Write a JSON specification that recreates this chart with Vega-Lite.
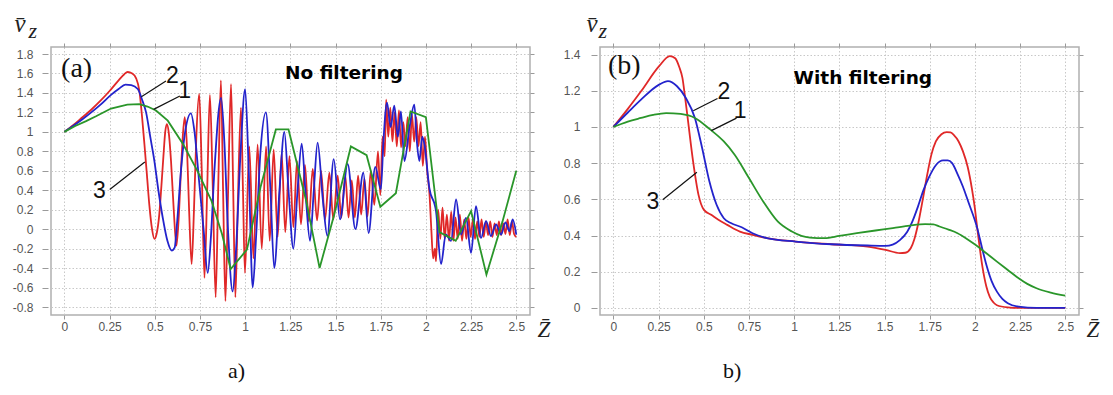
{
 "$schema": "https://vega.github.io/schema/vega-lite/v6.json",
 "background": "white",
 "padding": {"left": 11, "top": 10, "right": 5, "bottom": 5},
 "bounds": "flush",
 "spacing": 70,
 "config": {
  "view": {"stroke": "#b0b0b0", "strokeWidth": 1.5},
  "axis": {"labelFont": "Liberation Sans", "labelFontSize": 12, "labelColor": "#555555", "tickColor": "#9a9a9a", "gridColor": "#c8c8c8", "gridDash": [1.5, 2], "gridWidth": 1, "domain": false, "titleFont": "Liberation Serif", "titleFontStyle": "italic", "titleFontWeight": "normal", "titleColor": "#222222", "titleFontSize": 21, "labelFlush": false},
  "title": {"font": "Liberation Serif", "fontSize": 22, "fontWeight": "normal", "color": "#111111"}
 },
 "datasets": {
  "L": [
   {"s":3,"x":0,"y":1.0},{"s":3,"x":0.05,"y":1.07},{"s":3,"x":0.1,"y":1.15},{"s":3,"x":0.15,"y":1.23},{"s":3,"x":0.2,"y":1.32},{"s":3,"x":0.25,"y":1.42},{"s":3,"x":0.3,"y":1.53},{"s":3,"x":0.33,"y":1.59},{"s":3,"x":0.35,"y":1.615},{"s":3,"x":0.375,"y":1.6},{"s":3,"x":0.397,"y":1.55},{"s":3,"x":0.415,"y":1.42},{"s":3,"x":0.43,"y":1.15},{"s":3,"x":0.443,"y":0.87},{"s":3,"x":0.457,"y":0.55},{"s":3,"x":0.47,"y":0.25},{"s":3,"x":0.485,"y":0.0},{"s":3,"x":0.498,"y":-0.1},{"s":3,"x":0.51,"y":-0.05},{"s":3,"x":0.525,"y":0.15},{"s":3,"x":0.537,"y":0.45},{"s":3,"x":0.548,"y":0.75},{"s":3,"x":0.558,"y":1.0},{"s":3,"x":0.567,"y":1.08},{"s":3,"x":0.577,"y":1.0},{"s":3,"x":0.59,"y":0.7},{"s":3,"x":0.605,"y":0.2},{"s":3,"x":0.62,"y":-0.17},{"s":3,"x":0.632,"y":0.1},{"s":3,"x":0.645,"y":0.6},{"s":3,"x":0.655,"y":0.95},{"s":3,"x":0.666,"y":1.15},{"s":3,"x":0.678,"y":0.85},{"s":3,"x":0.69,"y":0.2},{"s":3,"x":0.704,"y":-0.36},{"s":3,"x":0.717,"y":0.2},{"s":3,"x":0.73,"y":0.95},{"s":3,"x":0.746,"y":1.39},{"s":3,"x":0.76,"y":0.6},{"s":3,"x":0.775,"y":-0.5},{"s":3,"x":0.79,"y":0.4},{"s":3,"x":0.805,"y":1.38},{"s":3,"x":0.82,"y":0.5},{"s":3,"x":0.837,"y":-0.7},{"s":3,"x":0.852,"y":0.5},{"s":3,"x":0.866,"y":1.53},{"s":3,"x":0.878,"y":0.4},{"s":3,"x":0.891,"y":-0.74},{"s":3,"x":0.906,"y":0.4},{"s":3,"x":0.922,"y":1.49},{"s":3,"x":0.934,"y":0.4},{"s":3,"x":0.946,"y":-0.7},{"s":3,"x":0.96,"y":0.3},{"s":3,"x":0.977,"y":1.25},{"s":3,"x":0.988,"y":0.4},{"s":3,"x":0.999,"y":-0.45},{"s":3,"x":1.023,"y":0.85},{"s":3,"x":1.046,"y":-0.3},{"s":3,"x":1.069,"y":0.87},{"s":3,"x":1.092,"y":-0.2},{"s":3,"x":1.116,"y":0.85},{"s":3,"x":1.136,"y":-0.12},{"s":3,"x":1.158,"y":0.82},{"s":3,"x":1.18,"y":-0.08},{"s":3,"x":1.202,"y":0.78},{"s":3,"x":1.222,"y":-0.03},{"s":3,"x":1.245,"y":0.75},{"s":3,"x":1.267,"y":0.02},{"s":3,"x":1.287,"y":0.7},{"s":3,"x":1.309,"y":0.05},{"s":3,"x":1.331,"y":0.66},{"s":3,"x":1.352,"y":0.08},{"s":3,"x":1.374,"y":0.62},{"s":3,"x":1.398,"y":0.09},{"s":3,"x":1.42,"y":0.6},{"s":3,"x":1.442,"y":0.1},{"s":3,"x":1.466,"y":0.58},{"s":3,"x":1.488,"y":0.1},{"s":3,"x":1.512,"y":0.55},{"s":3,"x":1.532,"y":0.12},{"s":3,"x":1.554,"y":0.55},{"s":3,"x":1.572,"y":0.12},{"s":3,"x":1.59,"y":0.5},{"s":3,"x":1.607,"y":0.12},{"s":3,"x":1.625,"y":0.55},{"s":3,"x":1.642,"y":0.15},{"s":3,"x":1.66,"y":0.52},{"s":3,"x":1.677,"y":0.13},{"s":3,"x":1.695,"y":0.6},{"s":3,"x":1.715,"y":0.25},{"s":3,"x":1.735,"y":0.8},{"s":3,"x":1.748,"y":0.35},{"s":3,"x":1.76,"y":0.95},{"s":3,"x":1.772,"y":0.75},{"s":3,"x":1.78,"y":1.33},{"s":3,"x":1.792,"y":0.95},{"s":3,"x":1.803,"y":1.25},{"s":3,"x":1.815,"y":0.9},{"s":3,"x":1.827,"y":1.2},{"s":3,"x":1.839,"y":0.85},{"s":3,"x":1.851,"y":1.22},{"s":3,"x":1.863,"y":0.84},{"s":3,"x":1.875,"y":1.1},{"s":3,"x":1.887,"y":0.85},{"s":3,"x":1.899,"y":1.15},{"s":3,"x":1.911,"y":0.8},{"s":3,"x":1.923,"y":1.18},{"s":3,"x":1.935,"y":0.9},{"s":3,"x":1.947,"y":1.15},{"s":3,"x":1.959,"y":0.85},{"s":3,"x":1.971,"y":1.1},{"s":3,"x":1.983,"y":0.65},{"s":3,"x":1.995,"y":0.95},{"s":3,"x":2.007,"y":0.6},{"s":3,"x":2.02,"y":0.36},{"s":3,"x":2.03,"y":0.0},{"s":3,"x":2.04,"y":-0.3},{"s":3,"x":2.05,"y":-0.2},{"s":3,"x":2.056,"y":-0.33},{"s":3,"x":2.068,"y":0.2},{"s":3,"x":2.08,"y":-0.1},{"s":3,"x":2.092,"y":0.22},{"s":3,"x":2.104,"y":-0.1},{"s":3,"x":2.116,"y":0.15},{"s":3,"x":2.128,"y":-0.12},{"s":3,"x":2.14,"y":0.18},{"s":3,"x":2.152,"y":-0.12},{"s":3,"x":2.164,"y":0.12},{"s":3,"x":2.176,"y":-0.1},{"s":3,"x":2.188,"y":0.15},{"s":3,"x":2.2,"y":-0.12},{"s":3,"x":2.212,"y":0.1},{"s":3,"x":2.224,"y":-0.1},{"s":3,"x":2.236,"y":0.12},{"s":3,"x":2.248,"y":-0.08},{"s":3,"x":2.26,"y":0.1},{"s":3,"x":2.272,"y":-0.1},{"s":3,"x":2.284,"y":0.08},{"s":3,"x":2.296,"y":-0.08},{"s":3,"x":2.308,"y":0.1},{"s":3,"x":2.32,"y":-0.08},{"s":3,"x":2.332,"y":0.08},{"s":3,"x":2.344,"y":-0.06},{"s":3,"x":2.356,"y":0.08},{"s":3,"x":2.368,"y":-0.08},{"s":3,"x":2.38,"y":0.06},{"s":3,"x":2.392,"y":-0.06},{"s":3,"x":2.404,"y":0.08},{"s":3,"x":2.416,"y":-0.06},{"s":3,"x":2.428,"y":0.06},{"s":3,"x":2.44,"y":-0.05},{"s":3,"x":2.452,"y":0.1},{"s":3,"x":2.464,"y":-0.06},{"s":3,"x":2.476,"y":0.08},{"s":3,"x":2.488,"y":-0.05},{"s":3,"x":2.5,"y":-0.08},
   {"s":2,"x":0,"y":1.0},{"s":2,"x":0.1,"y":1.13},{"s":2,"x":0.2,"y":1.28},{"s":2,"x":0.258,"y":1.38},{"s":2,"x":0.3,"y":1.44},{"s":2,"x":0.338,"y":1.485},{"s":2,"x":0.37,"y":1.48},{"s":2,"x":0.406,"y":1.44},{"s":2,"x":0.43,"y":1.33},{"s":2,"x":0.452,"y":1.2},{"s":2,"x":0.475,"y":0.95},{"s":2,"x":0.498,"y":0.7},{"s":2,"x":0.52,"y":0.4},{"s":2,"x":0.544,"y":0.12},{"s":2,"x":0.57,"y":-0.12},{"s":2,"x":0.594,"y":-0.22},{"s":2,"x":0.61,"y":-0.19},{"s":2,"x":0.625,"y":0.1},{"s":2,"x":0.645,"y":0.6},{"s":2,"x":0.668,"y":1.0},{"s":2,"x":0.7,"y":1.19},{"s":2,"x":0.72,"y":1.0},{"s":2,"x":0.745,"y":0.5},{"s":2,"x":0.77,"y":0.0},{"s":2,"x":0.793,"y":-0.45},{"s":2,"x":0.81,"y":-0.1},{"s":2,"x":0.83,"y":0.6},{"s":2,"x":0.867,"y":1.35},{"s":2,"x":0.885,"y":0.9},{"s":2,"x":0.905,"y":0.0},{"s":2,"x":0.931,"y":-0.64},{"s":2,"x":0.95,"y":-0.2},{"s":2,"x":0.975,"y":0.8},{"s":2,"x":1.0,"y":1.44},{"s":2,"x":1.02,"y":0.6},{"s":2,"x":1.042,"y":-0.6},{"s":2,"x":1.06,"y":-0.1},{"s":2,"x":1.085,"y":0.8},{"s":2,"x":1.115,"y":1.2},{"s":2,"x":1.14,"y":0.4},{"s":2,"x":1.161,"y":-0.4},{"s":2,"x":1.19,"y":0.4},{"s":2,"x":1.217,"y":1.0},{"s":2,"x":1.24,"y":0.4},{"s":2,"x":1.267,"y":-0.2},{"s":2,"x":1.29,"y":0.4},{"s":2,"x":1.313,"y":0.88},{"s":2,"x":1.335,"y":0.35},{"s":2,"x":1.359,"y":-0.12},{"s":2,"x":1.38,"y":0.4},{"s":2,"x":1.401,"y":0.89},{"s":2,"x":1.43,"y":0.3},{"s":2,"x":1.455,"y":-0.07},{"s":2,"x":1.49,"y":0.72},{"s":2,"x":1.525,"y":0.1},{"s":2,"x":1.567,"y":0.67},{"s":2,"x":1.61,"y":0.0},{"s":2,"x":1.654,"y":0.58},{"s":2,"x":1.683,"y":-0.04},{"s":2,"x":1.72,"y":0.64},{"s":2,"x":1.751,"y":0.41},{"s":2,"x":1.765,"y":0.9},{"s":2,"x":1.785,"y":1.3},{"s":2,"x":1.805,"y":1.05},{"s":2,"x":1.825,"y":1.27},{"s":2,"x":1.845,"y":0.95},{"s":2,"x":1.862,"y":1.21},{"s":2,"x":1.881,"y":0.7},{"s":2,"x":1.909,"y":1.04},{"s":2,"x":1.936,"y":1.28},{"s":2,"x":1.95,"y":0.9},{"s":2,"x":1.964,"y":0.7},{"s":2,"x":1.98,"y":0.95},{"s":2,"x":1.992,"y":0.87},{"s":2,"x":2.019,"y":0.425},{"s":2,"x":2.056,"y":0.185},{"s":2,"x":2.084,"y":-0.36},{"s":2,"x":2.11,"y":-0.055},{"s":2,"x":2.139,"y":-0.12},{"s":2,"x":2.167,"y":0.305},{"s":2,"x":2.195,"y":-0.055},{"s":2,"x":2.222,"y":0.117},{"s":2,"x":2.25,"y":-0.244},{"s":2,"x":2.277,"y":0.236},{"s":2,"x":2.305,"y":-0.09},{"s":2,"x":2.333,"y":0.082},{"s":2,"x":2.36,"y":-0.072},{"s":2,"x":2.388,"y":0.048},{"s":2,"x":2.416,"y":-0.055},{"s":2,"x":2.44,"y":0.07},{"s":2,"x":2.462,"y":-0.02},{"s":2,"x":2.48,"y":0.1},{"s":2,"x":2.5,"y":-0.055},
   {"s":1,"x":0,"y":1.0},{"s":1,"x":0.06,"y":1.06},{"s":1,"x":0.12,"y":1.11},{"s":1,"x":0.175,"y":1.16},{"s":1,"x":0.258,"y":1.24},{"s":1,"x":0.348,"y":1.28},{"s":1,"x":0.415,"y":1.285},{"s":1,"x":0.46,"y":1.26},{"s":1,"x":0.507,"y":1.22},{"s":1,"x":0.572,"y":1.115},{"s":1,"x":0.658,"y":0.87},{"s":1,"x":0.736,"y":0.6},{"s":1,"x":0.814,"y":0.29},{"s":1,"x":0.872,"y":-0.05},{"s":1,"x":0.92,"y":-0.41},{"s":1,"x":1.01,"y":-0.21},{"s":1,"x":1.085,"y":0.43},{"s":1,"x":1.17,"y":1.025},{"s":1,"x":1.24,"y":1.025},{"s":1,"x":1.338,"y":0.29},{"s":1,"x":1.412,"y":-0.4},{"s":1,"x":1.493,"y":0.15},{"s":1,"x":1.585,"y":0.85},{"s":1,"x":1.672,"y":0.76},{"s":1,"x":1.748,"y":0.23},{"s":1,"x":1.834,"y":0.37},{"s":1,"x":1.915,"y":1.21},{"s":1,"x":2.0,"y":1.15},{"s":1,"x":2.075,"y":-0.03},{"s":1,"x":2.165,"y":-0.12},{"s":1,"x":2.25,"y":0.185},{"s":1,"x":2.335,"y":-0.467},{"s":1,"x":2.424,"y":0.08},{"s":1,"x":2.5,"y":0.6}
  ],
  "R": [
   {"s":3,"x":0,"y":1.0},{"s":3,"x":0.08,"y":1.1},{"s":3,"x":0.153,"y":1.197},{"s":3,"x":0.253,"y":1.336},{"s":3,"x":0.312,"y":1.392},{"s":3,"x":0.342,"y":1.38},{"s":3,"x":0.365,"y":1.33},{"s":3,"x":0.382,"y":1.271},{"s":3,"x":0.396,"y":1.17},{"s":3,"x":0.411,"y":1.05},{"s":3,"x":0.441,"y":0.81},{"s":3,"x":0.471,"y":0.625},{"s":3,"x":0.501,"y":0.542},{"s":3,"x":0.541,"y":0.515},{"s":3,"x":0.581,"y":0.487},{"s":3,"x":0.63,"y":0.459},{"s":3,"x":0.7,"y":0.422},{"s":3,"x":0.77,"y":0.404},{"s":3,"x":0.849,"y":0.386},{"s":3,"x":1.008,"y":0.367},{"s":3,"x":1.207,"y":0.352},{"s":3,"x":1.406,"y":0.339},{"s":3,"x":1.506,"y":0.321},{"s":3,"x":1.585,"y":0.303},{"s":3,"x":1.615,"y":0.305},{"s":3,"x":1.645,"y":0.33},{"s":3,"x":1.665,"y":0.38},{"s":3,"x":1.685,"y":0.46},{"s":3,"x":1.71,"y":0.59},{"s":3,"x":1.735,"y":0.73},{"s":3,"x":1.76,"y":0.85},{"s":3,"x":1.784,"y":0.92},{"s":3,"x":1.815,"y":0.96},{"s":3,"x":1.844,"y":0.972},{"s":3,"x":1.865,"y":0.97},{"s":3,"x":1.884,"y":0.955},{"s":3,"x":1.91,"y":0.92},{"s":3,"x":1.934,"y":0.865},{"s":3,"x":1.96,"y":0.78},{"s":3,"x":1.983,"y":0.662},{"s":3,"x":2.0,"y":0.55},{"s":3,"x":2.013,"y":0.441},{"s":3,"x":2.043,"y":0.22},{"s":3,"x":2.063,"y":0.12},{"s":3,"x":2.083,"y":0.06},{"s":3,"x":2.103,"y":0.03},{"s":3,"x":2.122,"y":0.015},{"s":3,"x":2.182,"y":0.003},{"s":3,"x":2.242,"y":0},{"s":3,"x":2.5,"y":0},
   {"s":2,"x":0,"y":1.0},{"s":2,"x":0.08,"y":1.08},{"s":2,"x":0.153,"y":1.151},{"s":2,"x":0.253,"y":1.234},{"s":2,"x":0.302,"y":1.253},{"s":2,"x":0.352,"y":1.225},{"s":2,"x":0.401,"y":1.16},{"s":2,"x":0.451,"y":1.05},{"s":2,"x":0.491,"y":0.884},{"s":2,"x":0.531,"y":0.7},{"s":2,"x":0.571,"y":0.57},{"s":2,"x":0.611,"y":0.496},{"s":2,"x":0.65,"y":0.469},{"s":2,"x":0.71,"y":0.446},{"s":2,"x":0.77,"y":0.413},{"s":2,"x":0.849,"y":0.386},{"s":2,"x":1.008,"y":0.367},{"s":2,"x":1.207,"y":0.352},{"s":2,"x":1.406,"y":0.345},{"s":2,"x":1.506,"y":0.343},{"s":2,"x":1.545,"y":0.35},{"s":2,"x":1.585,"y":0.375},{"s":2,"x":1.625,"y":0.42},{"s":2,"x":1.655,"y":0.48},{"s":2,"x":1.685,"y":0.56},{"s":2,"x":1.715,"y":0.65},{"s":2,"x":1.745,"y":0.72},{"s":2,"x":1.785,"y":0.79},{"s":2,"x":1.824,"y":0.815},{"s":2,"x":1.85,"y":0.815},{"s":2,"x":1.874,"y":0.8},{"s":2,"x":1.904,"y":0.74},{"s":2,"x":1.934,"y":0.67},{"s":2,"x":1.963,"y":0.588},{"s":2,"x":2.013,"y":0.441},{"s":2,"x":2.04,"y":0.33},{"s":2,"x":2.063,"y":0.24},{"s":2,"x":2.092,"y":0.15},{"s":2,"x":2.122,"y":0.09},{"s":2,"x":2.152,"y":0.05},{"s":2,"x":2.182,"y":0.026},{"s":2,"x":2.242,"y":0.007},{"s":2,"x":2.341,"y":0},{"s":2,"x":2.5,"y":0},
   {"s":1,"x":0,"y":1.0},{"s":1,"x":0.08,"y":1.03},{"s":1,"x":0.153,"y":1.05},{"s":1,"x":0.22,"y":1.067},{"s":1,"x":0.292,"y":1.077},{"s":1,"x":0.372,"y":1.072},{"s":1,"x":0.451,"y":1.05},{"s":1,"x":0.531,"y":0.99},{"s":1,"x":0.611,"y":0.92},{"s":1,"x":0.671,"y":0.847},{"s":1,"x":0.75,"y":0.718},{"s":1,"x":0.829,"y":0.588},{"s":1,"x":0.909,"y":0.478},{"s":1,"x":0.988,"y":0.422},{"s":1,"x":1.04,"y":0.398},{"s":1,"x":1.088,"y":0.389},{"s":1,"x":1.168,"y":0.386},{"s":1,"x":1.25,"y":0.398},{"s":1,"x":1.347,"y":0.413},{"s":1,"x":1.45,"y":0.428},{"s":1,"x":1.546,"y":0.441},{"s":1,"x":1.64,"y":0.455},{"s":1,"x":1.725,"y":0.463},{"s":1,"x":1.77,"y":0.462},{"s":1,"x":1.804,"y":0.45},{"s":1,"x":1.854,"y":0.433},{"s":1,"x":1.904,"y":0.413},{"s":1,"x":1.954,"y":0.383},{"s":1,"x":2.003,"y":0.349},{"s":1,"x":2.06,"y":0.305},{"s":1,"x":2.122,"y":0.256},{"s":1,"x":2.182,"y":0.21},{"s":1,"x":2.242,"y":0.164},{"s":1,"x":2.29,"y":0.133},{"s":1,"x":2.341,"y":0.109},{"s":1,"x":2.42,"y":0.085},{"s":1,"x":2.5,"y":0.068}
  ],
  "AL": [
   {"k":"lead","x":0.426,"y":1.361,"x2":0.562,"y2":1.523},
   {"k":"lead","x":0.494,"y":1.231,"x2":0.639,"y2":1.368},
   {"k":"lead","x":0.251,"y":0.408,"x2":0.445,"y2":0.69},
   {"k":"num","t":"2","x":0.598,"y":1.57},
   {"k":"num","t":"1","x":0.665,"y":1.42},
   {"k":"num","t":"3","x":0.194,"y":0.391},
   {"k":"tag","t":"(a)","x":-0.018,"y":1.651},
   {"k":"head","t":"No filtering","x":1.547,"y":1.54}
  ],
  "AR": [
   {"k":"lead","x":0.442,"y":1.09,"x2":0.576,"y2":1.157},
   {"k":"lead","x":0.542,"y":0.98,"x2":0.681,"y2":1.049},
   {"k":"lead","x":0.273,"y":0.598,"x2":0.462,"y2":0.75},
   {"k":"num","t":"2","x":0.612,"y":1.193},
   {"k":"num","t":"1","x":0.701,"y":1.086},
   {"k":"num","t":"3","x":0.218,"y":0.588},
   {"k":"tag","t":"(b)","x":-0.03,"y":1.335},
   {"k":"head","t":"With filtering","x":1.38,"y":1.237}
  ]
 },
 "hconcat": [
  {
   "width": 479, "height": 268,
   "title": {"text": "a)", "orient": "bottom", "anchor": "start", "frame": "group", "dx": 177, "offset": 20},
   "resolve": {"axis": {"x": "independent", "y": "independent"}},
   "layer": [
    {
     "data": {"name": "L"}, "transform": [{"filter": "datum.s == 3"}],
     "mark": {"type": "line", "interpolate": "monotone", "color": "#e02828", "strokeWidth": 1.8},
     "encoding": {
      "x": {"field": "x", "type": "quantitative", "scale": {"domain": [-0.074, 2.576], "nice": false, "zero": false},
        "axis": {"orient": "bottom", "values": [0,0.25,0.5,0.75,1,1.25,1.5,1.75,2,2.25,2.5], "labelExpr": "'' + datum.value", "grid": true, "ticks": true, "tickSize": 4, "labelPadding": 2, "title": "Z\u0304", "titleX": 486, "titleY": 21, "titleAlign": "left", "titleBaseline": "alphabetic", "titleAngle": 0, "titleFontSize": 23}},
      "y": {"field": "y", "type": "quantitative", "scale": {"domain": [-0.882, 1.872], "nice": false, "zero": false},
        "axis": {"orient": "left", "values": [-0.8,-0.6,-0.4,-0.2,0,0.2,0.4,0.6,0.8,1,1.2,1.4,1.6,1.8], "labelExpr": "datum.value < 0 ? '-' + (-datum.value) : '' + datum.value", "grid": true, "ticks": true, "tickSize": 6, "offset": 3, "labelPadding": 9, "title": "v\u0304", "titleX": -34, "titleY": -16, "titleAngle": 0, "titleAlign": "left", "titleBaseline": "alphabetic", "titleFontSize": 25}}
     }
    },
    {
     "data": {"name": "L"}, "transform": [{"filter": "datum.s == 2"}],
     "mark": {"type": "line", "interpolate": "monotone", "color": "#2323cc", "strokeWidth": 1.8},
     "encoding": {
      "x": {"field": "x", "type": "quantitative", "scale": {"domain": [-0.074, 2.576], "nice": false, "zero": false}, "axis": null},
      "y": {"field": "y", "type": "quantitative", "scale": {"domain": [-0.882, 1.872], "nice": false, "zero": false}, "axis": null}
     }
    },
    {
     "data": {"name": "L"}, "transform": [{"filter": "datum.s == 1"}],
     "mark": {"type": "line", "color": "#2a962a", "strokeWidth": 1.8},
     "encoding": {
      "x": {"field": "x", "type": "quantitative", "scale": {"domain": [-0.074, 2.576], "nice": false, "zero": false}, "axis": null},
      "y": {"field": "y", "type": "quantitative", "scale": {"domain": [-0.882, 1.872], "nice": false, "zero": false}, "axis": null}
     }
    },
    {
     "data": {"name": "AL"}, "transform": [{"filter": "datum.k == 'lead'"}],
     "mark": {"type": "rule", "color": "#111111", "strokeWidth": 1.2},
     "encoding": {
      "x": {"field": "x", "type": "quantitative", "scale": {"domain": [-0.074, 2.576], "nice": false, "zero": false},
        "axis": {"orient": "top", "values": [0,0.25,0.5,0.75,1,1.25,1.5,1.75,2,2.25,2.5], "labels": false, "grid": false, "ticks": true, "tickSize": 4, "title": "z", "titleX": -23, "titleY": -10, "titleAlign": "left", "titleBaseline": "alphabetic", "titleAngle": 0, "titleFontSize": 22}},
      "y": {"field": "y", "type": "quantitative", "scale": {"domain": [-0.882, 1.872], "nice": false, "zero": false},
        "axis": {"orient": "right", "values": [-0.8,-0.6,-0.4,-0.2,0,0.2,0.4,0.6,0.8,1,1.2,1.4,1.6,1.8], "labels": false, "grid": false, "ticks": true, "tickSize": 4, "title": null}},
      "x2": {"field": "x2"},
      "y2": {"field": "y2"}
     }
    },
    {
     "data": {"name": "AL"}, "transform": [{"filter": "datum.k == 'num'"}],
     "mark": {"type": "text", "font": "Liberation Sans", "fontSize": 23, "color": "#111111", "align": "center", "baseline": "middle"},
     "encoding": {
      "x": {"field": "x", "type": "quantitative", "scale": {"domain": [-0.074, 2.576], "nice": false, "zero": false}, "axis": null},
      "y": {"field": "y", "type": "quantitative", "scale": {"domain": [-0.882, 1.872], "nice": false, "zero": false}, "axis": null},
      "text": {"field": "t"}
     }
    },
    {
     "data": {"name": "AL"}, "transform": [{"filter": "datum.k == 'tag'"}],
     "mark": {"type": "text", "font": "Liberation Serif", "fontSize": 28, "color": "#111111", "align": "left", "baseline": "middle"},
     "encoding": {
      "x": {"field": "x", "type": "quantitative", "scale": {"domain": [-0.074, 2.576], "nice": false, "zero": false}, "axis": null},
      "y": {"field": "y", "type": "quantitative", "scale": {"domain": [-0.882, 1.872], "nice": false, "zero": false}, "axis": null},
      "text": {"field": "t"}
     }
    },
    {
     "data": {"name": "AL"}, "transform": [{"filter": "datum.k == 'head'"}],
     "mark": {"type": "text", "font": "DejaVu Sans", "fontWeight": "bold", "fontSize": 18.5, "color": "#000000", "align": "center", "baseline": "alphabetic"},
     "encoding": {
      "x": {"field": "x", "type": "quantitative", "scale": {"domain": [-0.074, 2.576], "nice": false, "zero": false}, "axis": null},
      "y": {"field": "y", "type": "quantitative", "scale": {"domain": [-0.882, 1.872], "nice": false, "zero": false}, "axis": null},
      "text": {"field": "t"}
     }
    }
   ]
  },
  {
   "width": 479, "height": 268,
   "title": {"text": "b)", "orient": "bottom", "anchor": "start", "frame": "group", "dx": 123, "offset": 20},
   "resolve": {"axis": {"x": "independent", "y": "independent"}},
   "layer": [
    {
     "data": {"name": "R"}, "transform": [{"filter": "datum.s == 3"}],
     "mark": {"type": "line", "interpolate": "monotone", "color": "#e02828", "strokeWidth": 1.8},
     "encoding": {
      "x": {"field": "x", "type": "quantitative", "scale": {"domain": [-0.074, 2.576], "nice": false, "zero": false},
        "axis": {"orient": "bottom", "values": [0,0.25,0.5,0.75,1,1.25,1.5,1.75,2,2.25,2.5], "labelExpr": "'' + datum.value", "grid": true, "ticks": true, "tickSize": 4, "labelPadding": 2, "title": "Z\u0304", "titleX": 486, "titleY": 21, "titleAlign": "left", "titleBaseline": "alphabetic", "titleAngle": 0, "titleFontSize": 23}},
      "y": {"field": "y", "type": "quantitative", "scale": {"domain": [-0.039, 1.442], "nice": false, "zero": false},
        "axis": {"orient": "left", "values": [0,0.2,0.4,0.6,0.8,1,1.2,1.4], "labelExpr": "'' + datum.value", "grid": true, "ticks": true, "tickSize": 6, "offset": 3, "labelPadding": 11, "title": "v\u0304", "titleX": -11, "titleY": -16, "titleAngle": 0, "titleAlign": "left", "titleBaseline": "alphabetic", "titleFontSize": 25}}
     }
    },
    {
     "data": {"name": "R"}, "transform": [{"filter": "datum.s == 2"}],
     "mark": {"type": "line", "interpolate": "monotone", "color": "#2323cc", "strokeWidth": 1.8},
     "encoding": {
      "x": {"field": "x", "type": "quantitative", "scale": {"domain": [-0.074, 2.576], "nice": false, "zero": false}, "axis": null},
      "y": {"field": "y", "type": "quantitative", "scale": {"domain": [-0.039, 1.442], "nice": false, "zero": false}, "axis": null}
     }
    },
    {
     "data": {"name": "R"}, "transform": [{"filter": "datum.s == 1"}],
     "mark": {"type": "line", "interpolate": "monotone", "color": "#2a962a", "strokeWidth": 1.8},
     "encoding": {
      "x": {"field": "x", "type": "quantitative", "scale": {"domain": [-0.074, 2.576], "nice": false, "zero": false}, "axis": null},
      "y": {"field": "y", "type": "quantitative", "scale": {"domain": [-0.039, 1.442], "nice": false, "zero": false}, "axis": null}
     }
    },
    {
     "data": {"name": "AR"}, "transform": [{"filter": "datum.k == 'lead'"}],
     "mark": {"type": "rule", "color": "#111111", "strokeWidth": 1.2},
     "encoding": {
      "x": {"field": "x", "type": "quantitative", "scale": {"domain": [-0.074, 2.576], "nice": false, "zero": false},
        "axis": {"orient": "top", "values": [0,0.25,0.5,0.75,1,1.25,1.5,1.75,2,2.25,2.5], "labels": false, "grid": false, "ticks": true, "tickSize": 4, "title": "z", "titleX": -2, "titleY": -10, "titleAlign": "left", "titleBaseline": "alphabetic", "titleAngle": 0, "titleFontSize": 22}},
      "y": {"field": "y", "type": "quantitative", "scale": {"domain": [-0.039, 1.442], "nice": false, "zero": false},
        "axis": {"orient": "right", "values": [0,0.2,0.4,0.6,0.8,1,1.2,1.4], "labels": false, "grid": false, "ticks": true, "tickSize": 4, "title": null}},
      "x2": {"field": "x2"},
      "y2": {"field": "y2"}
     }
    },
    {
     "data": {"name": "AR"}, "transform": [{"filter": "datum.k == 'num'"}],
     "mark": {"type": "text", "font": "Liberation Sans", "fontSize": 23, "color": "#111111", "align": "center", "baseline": "middle"},
     "encoding": {
      "x": {"field": "x", "type": "quantitative", "scale": {"domain": [-0.074, 2.576], "nice": false, "zero": false}, "axis": null},
      "y": {"field": "y", "type": "quantitative", "scale": {"domain": [-0.039, 1.442], "nice": false, "zero": false}, "axis": null},
      "text": {"field": "t"}
     }
    },
    {
     "data": {"name": "AR"}, "transform": [{"filter": "datum.k == 'tag'"}],
     "mark": {"type": "text", "font": "Liberation Serif", "fontSize": 28, "color": "#111111", "align": "left", "baseline": "middle"},
     "encoding": {
      "x": {"field": "x", "type": "quantitative", "scale": {"domain": [-0.074, 2.576], "nice": false, "zero": false}, "axis": null},
      "y": {"field": "y", "type": "quantitative", "scale": {"domain": [-0.039, 1.442], "nice": false, "zero": false}, "axis": null},
      "text": {"field": "t"}
     }
    },
    {
     "data": {"name": "AR"}, "transform": [{"filter": "datum.k == 'head'"}],
     "mark": {"type": "text", "font": "DejaVu Sans", "fontWeight": "bold", "fontSize": 18.5, "color": "#000000", "align": "center", "baseline": "alphabetic"},
     "encoding": {
      "x": {"field": "x", "type": "quantitative", "scale": {"domain": [-0.074, 2.576], "nice": false, "zero": false}, "axis": null},
      "y": {"field": "y", "type": "quantitative", "scale": {"domain": [-0.039, 1.442], "nice": false, "zero": false}, "axis": null},
      "text": {"field": "t"}
     }
    }
   ]
  }
 ]
}
